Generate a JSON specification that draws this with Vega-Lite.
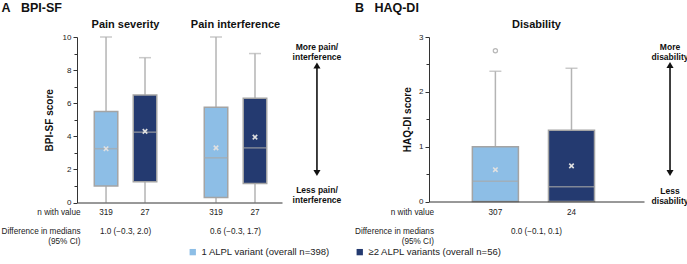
{
  "$schema": "https://vega.github.io/schema/vega-lite/v6.json",
  "padding": {"left": 1, "top": 1, "right": 0, "bottom": 0},
  "background": "white",
  "config": {
    "font": "Liberation Sans",
    "view": {"stroke": null},
    "axis": {"domainColor": "#333333", "tickColor": "#333333", "labelColor": "#222222", "titleColor": "#111111", "grid": false, "labelOverlap": false, "labelBound": false, "labelFlush": false},
    "title": {"anchor": "start", "fontSize": 12.5, "fontWeight": "bold", "color": "#111111", "offset": 4},
    "legend": {"layout": {"bottom": {"anchor": "middle"}}}
  },
  "datasets": {
    "bpi": [
      {"measure": "Pain severity", "variant": "1 ALPL variant (overall n=398)", "lower": 0, "q1": 1.0, "median": 3.25, "q3": 5.5, "upper": 10, "mean": 3.25, "n": 319},
      {"measure": "Pain severity", "variant": "≥2 ALPL variants (overall n=56)", "lower": 0, "q1": 1.25, "median": 4.25, "q3": 6.5, "upper": 8.75, "mean": 4.3, "n": 27},
      {"measure": "Pain interference", "variant": "1 ALPL variant (overall n=398)", "lower": 0, "q1": 0.3, "median": 2.7, "q3": 5.75, "upper": 10, "mean": 3.3, "n": 319},
      {"measure": "Pain interference", "variant": "≥2 ALPL variants (overall n=56)", "lower": 0, "q1": 1.15, "median": 3.3, "q3": 6.3, "upper": 9.0, "mean": 3.95, "n": 27}
    ],
    "haq": [
      {"measure": "Disability", "variant": "1 ALPL variant (overall n=398)", "lower": 0, "q1": 0, "median": 0.37, "q3": 1.0, "upper": 2.375, "mean": 0.58, "n": 307, "outlier": 2.75},
      {"measure": "Disability", "variant": "≥2 ALPL variants (overall n=56)", "lower": 0, "q1": 0, "median": 0.27, "q3": 1.3, "upper": 2.43, "mean": 0.65, "n": 24, "outlier": null}
    ],
    "diffA": [
      {"measure": "Pain severity", "diff": "1.0 (−0.3, 2.0)"},
      {"measure": "Pain interference", "diff": "0.6 (−0.3, 1.7)"}
    ],
    "diffB": [
      {"measure": "Disability", "diff": "0.0 (−0.1, 0.1)"}
    ]
  },
  "hconcat": [
    {
      "title": {"text": "A\u00a0\u00a0\u00a0BPI-SF"},
      "width": 205,
      "height": 165.5,
      "resolve": {"axis": {"x": "independent", "y": "independent"}},
      "layer": [
        {
          "data": {"name": "bpi"},
          "mark": {"type": "rule", "color": "#b4b4b4", "strokeWidth": 1.5},
          "encoding": {
            "x": {"field": "measure", "type": "nominal", "sort": ["Pain severity", "Pain interference"],
                  "scale": {"paddingInner": 0.3, "paddingOuter": 0.082, "align": 0.556},
                  "axis": {"orient": "bottom", "title": null, "labels": false, "ticks": false, "domain": true, "domainColor": "#333333", "zindex": 1}},
            "xOffset": {"field": "variant", "type": "nominal", "sort": ["1 ALPL variant (overall n=398)", "≥2 ALPL variants (overall n=56)"],
                  "scale": {"paddingInner": 0.397, "paddingOuter": 0.186}},
            "y": {"field": "lower", "type": "quantitative", "scale": {"domain": [0, 10], "nice": false, "zero": false},
                  "axis": {"orient": "left", "title": "BPI-SF score", "titleFontSize": 10, "titleFontWeight": "bold", "titlePadding": 8,
                           "values": [0, 2, 4, 6, 8, 10], "format": "d",
                           "labelFontSize": 8, "labelPadding": 2, "tickSize": 4, "zindex": 1}},
            "y2": {"field": "upper"}
          }
        },
        {
          "data": {"name": "bpi"},
          "mark": {"type": "tick", "color": "#b4b4b4", "size": 12, "thickness": 1.5},
          "encoding": {
            "x": {"field": "measure", "type": "nominal", "sort": ["Pain severity", "Pain interference"], "axis": null},
            "xOffset": {"field": "variant", "type": "nominal", "sort": ["1 ALPL variant (overall n=398)", "≥2 ALPL variants (overall n=56)"]},
            "y": {"field": "upper", "type": "quantitative",
                  "axis": {"orient": "left", "title": null, "values": [1, 3, 5, 7, 9], "labels": false, "domain": false, "tickSize": 3, "zindex": 1}}
          }
        },
        {
          "data": {"name": "bpi"},
          "mark": {"type": "bar", "stroke": "#a4a4a4", "strokeWidth": 1.5},
          "encoding": {
            "x": {"field": "measure", "type": "nominal", "sort": ["Pain severity", "Pain interference"],
                  "axis": {"orient": "top", "title": null, "domain": false, "ticks": false, "labelAngle": 0, "labelFontSize": 11, "labelFontWeight": "bold", "labelPadding": 8, "labelColor": "#111111"}},
            "xOffset": {"field": "variant", "type": "nominal", "sort": ["1 ALPL variant (overall n=398)", "≥2 ALPL variants (overall n=56)"]},
            "y": {"field": "q1", "type": "quantitative", "axis": null},
            "y2": {"field": "q3"},
            "color": {"field": "variant", "type": "nominal",
                      "scale": {"domain": ["1 ALPL variant (overall n=398)", "≥2 ALPL variants (overall n=56)"], "range": ["#8dbee6", "#243a70"]},
                      "legend": {"title": null, "orient": "bottom", "direction": "horizontal", "symbolType": "square", "symbolSize": 40, "symbolStrokeWidth": 0, "labelFontSize": 9.5, "labelColor": "#222222", "columnPadding": 24, "labelLimit": 300, "offset": 2}}
          }
        },
        {
          "data": {"name": "bpi"},
          "mark": {"type": "tick", "color": "#a8a8a8", "size": 23.5, "thickness": 1.5},
          "encoding": {
            "x": {"field": "measure", "type": "nominal", "sort": ["Pain severity", "Pain interference"], "axis": null},
            "xOffset": {"field": "variant", "type": "nominal", "sort": ["1 ALPL variant (overall n=398)", "≥2 ALPL variants (overall n=56)"]},
            "y": {"field": "median", "type": "quantitative", "axis": null}
          }
        },
        {
          "data": {"name": "bpi"},
          "mark": {"type": "point", "shape": "M-1,-1L1,1M-1,1L1,-1", "filled": false, "stroke": "#e0e0e0", "strokeWidth": 1.6, "size": 20, "opacity": 1},
          "encoding": {
            "x": {"field": "measure", "type": "nominal", "sort": ["Pain severity", "Pain interference"], "axis": null},
            "xOffset": {"field": "variant", "type": "nominal", "sort": ["1 ALPL variant (overall n=398)", "≥2 ALPL variants (overall n=56)"]},
            "y": {"field": "mean", "type": "quantitative", "axis": null}
          }
        },
        {
          "data": {"name": "bpi"},
          "mark": {"type": "text", "fontSize": 8.2, "color": "#222222", "baseline": "middle"},
          "encoding": {
            "x": {"field": "measure", "type": "nominal", "sort": ["Pain severity", "Pain interference"], "axis": null},
            "xOffset": {"field": "variant", "type": "nominal", "sort": ["1 ALPL variant (overall n=398)", "≥2 ALPL variants (overall n=56)"]},
            "y": {"datum": -0.63, "type": "quantitative", "axis": null},
            "text": {"field": "n"}
          }
        },
        {
          "data": {"name": "diffA"},
          "mark": {"type": "text", "fontSize": 8.2, "color": "#222222", "baseline": "middle"},
          "encoding": {
            "x": {"field": "measure", "type": "nominal", "sort": ["Pain severity", "Pain interference"], "axis": null},
            "y": {"datum": -1.8, "type": "quantitative", "axis": null},
            "text": {"field": "diff"}
          }
        },
        {
          "data": {"values": [{}]},
          "mark": {"type": "text", "text": "n with value", "fontSize": 8.2, "color": "#222222", "align": "right", "baseline": "middle"},
          "encoding": {
            "x": {"datum": "Pain severity", "type": "nominal", "bandPosition": -0.084, "axis": null},
            "y": {"datum": -0.63, "type": "quantitative", "axis": null}
          }
        },
        {
          "data": {"values": [{}]},
          "mark": {"type": "text", "text": ["Difference in medians", "(95% CI)"], "lineHeight": 9.5, "fontSize": 8.2, "color": "#222222", "align": "right", "baseline": "middle"},
          "encoding": {
            "x": {"datum": "Pain severity", "type": "nominal", "bandPosition": -0.084, "axis": null},
            "y": {"datum": -1.8, "type": "quantitative", "axis": null}
          }
        },
        {
          "data": {"values": [{}]},
          "mark": {"type": "text", "text": ["More pain/", "interference"], "lineHeight": 10, "fontSize": 8.5, "fontWeight": "bold", "color": "#111111", "align": "center", "baseline": "middle"},
          "encoding": {
            "x": {"datum": "Pain interference", "type": "nominal", "bandPosition": 1.558, "axis": null},
            "y": {"datum": 9.4, "type": "quantitative", "axis": null}
          }
        },
        {
          "data": {"values": [{}]},
          "mark": {"type": "text", "text": ["Less pain/", "interference"], "lineHeight": 10, "fontSize": 8.5, "fontWeight": "bold", "color": "#111111", "align": "center", "baseline": "middle"},
          "encoding": {
            "x": {"datum": "Pain interference", "type": "nominal", "bandPosition": 1.558, "axis": null},
            "y": {"datum": 0.73, "type": "quantitative", "axis": null}
          }
        },
        {
          "data": {"values": [{}]},
          "mark": {"type": "rule", "color": "#111111", "strokeWidth": 1.6},
          "encoding": {
            "x": {"datum": "Pain interference", "type": "nominal", "bandPosition": 1.558, "axis": null},
            "y": {"datum": 8.28, "type": "quantitative", "axis": null},
            "y2": {"datum": 1.78}
          }
        },
        {
          "data": {"values": [{}]},
          "mark": {"type": "point", "shape": "triangle-up", "filled": true, "color": "#111111", "size": 50, "opacity": 1},
          "encoding": {
            "x": {"datum": "Pain interference", "type": "nominal", "bandPosition": 1.558, "axis": null},
            "y": {"datum": 8.28, "type": "quantitative", "axis": null}
          }
        },
        {
          "data": {"values": [{}]},
          "mark": {"type": "point", "shape": "triangle-down", "filled": true, "color": "#111111", "size": 50, "opacity": 1},
          "encoding": {
            "x": {"datum": "Pain interference", "type": "nominal", "bandPosition": 1.558, "axis": null},
            "y": {"datum": 1.78, "type": "quantitative", "axis": null}
          }
        }
      ]
    },
    {
      "title": {"text": "B\u00a0\u00a0\u00a0HAQ-DI"},
      "width": 215,
      "height": 164.5,
      "resolve": {"axis": {"x": "independent", "y": "independent"}},
      "layer": [
        {
          "data": {"name": "haq"},
          "mark": {"type": "rule", "color": "#b4b4b4", "strokeWidth": 1.5},
          "encoding": {
            "x": {"field": "measure", "type": "nominal",
                  "scale": {"paddingInner": 0, "paddingOuter": 0},
                  "axis": {"orient": "bottom", "title": null, "labels": false, "ticks": false, "domain": true, "domainColor": "#333333", "zindex": 1}},
            "xOffset": {"field": "variant", "type": "nominal", "sort": ["1 ALPL variant (overall n=398)", "≥2 ALPL variants (overall n=56)"],
                  "scale": {"paddingInner": 0.395, "paddingOuter": 0.61, "align": 0.467}},
            "y": {"field": "lower", "type": "quantitative", "scale": {"domain": [0, 3], "nice": false, "zero": false},
                  "axis": {"orient": "left", "title": "HAQ-DI score", "titleFontSize": 10, "titleFontWeight": "bold", "titlePadding": 6,
                           "values": [0, 1, 2, 3], "format": "d",
                           "labelFontSize": 8, "labelPadding": 2, "tickSize": 4, "zindex": 1}},
            "y2": {"field": "upper"}
          }
        },
        {
          "data": {"name": "haq"},
          "mark": {"type": "tick", "color": "#b4b4b4", "size": 12, "thickness": 1.5},
          "encoding": {
            "x": {"field": "measure", "type": "nominal", "axis": null},
            "xOffset": {"field": "variant", "type": "nominal", "sort": ["1 ALPL variant (overall n=398)", "≥2 ALPL variants (overall n=56)"]},
            "y": {"field": "upper", "type": "quantitative",
                  "axis": {"orient": "left", "title": null, "values": [0.5, 1.5, 2.5], "labels": false, "domain": false, "tickSize": 3, "zindex": 1}}
          }
        },
        {
          "data": {"name": "haq"},
          "mark": {"type": "bar", "stroke": "#a4a4a4", "strokeWidth": 1.5},
          "encoding": {
            "x": {"field": "measure", "type": "nominal",
                  "axis": {"orient": "top", "title": null, "domain": false, "ticks": false, "labelAngle": 0, "labelFontSize": 11, "labelFontWeight": "bold", "labelPadding": 8, "labelColor": "#111111"}},
            "xOffset": {"field": "variant", "type": "nominal", "sort": ["1 ALPL variant (overall n=398)", "≥2 ALPL variants (overall n=56)"]},
            "y": {"field": "q1", "type": "quantitative", "axis": null},
            "y2": {"field": "q3"},
            "color": {"field": "variant", "type": "nominal",
                      "scale": {"domain": ["1 ALPL variant (overall n=398)", "≥2 ALPL variants (overall n=56)"], "range": ["#8dbee6", "#243a70"]},
                      "legend": {"title": null, "orient": "bottom", "direction": "horizontal", "symbolType": "square", "symbolSize": 40, "symbolStrokeWidth": 0, "labelFontSize": 9.5, "labelColor": "#222222", "columnPadding": 24, "labelLimit": 300, "offset": 2}}
          }
        },
        {
          "data": {"name": "haq"},
          "mark": {"type": "tick", "color": "#a8a8a8", "size": 46, "thickness": 1.5},
          "encoding": {
            "x": {"field": "measure", "type": "nominal", "axis": null},
            "xOffset": {"field": "variant", "type": "nominal", "sort": ["1 ALPL variant (overall n=398)", "≥2 ALPL variants (overall n=56)"]},
            "y": {"field": "median", "type": "quantitative", "axis": null}
          }
        },
        {
          "data": {"name": "haq"},
          "mark": {"type": "point", "shape": "M-1,-1L1,1M-1,1L1,-1", "filled": false, "stroke": "#e0e0e0", "strokeWidth": 1.6, "size": 20, "opacity": 1},
          "encoding": {
            "x": {"field": "measure", "type": "nominal", "axis": null},
            "xOffset": {"field": "variant", "type": "nominal", "sort": ["1 ALPL variant (overall n=398)", "≥2 ALPL variants (overall n=56)"]},
            "y": {"field": "mean", "type": "quantitative", "axis": null}
          }
        },
        {
          "data": {"name": "haq"},
          "mark": {"type": "point", "shape": "circle", "filled": false, "stroke": "#b8b8b8", "strokeWidth": 1.2, "size": 18, "opacity": 1},
          "encoding": {
            "x": {"field": "measure", "type": "nominal", "axis": null},
            "xOffset": {"field": "variant", "type": "nominal", "sort": ["1 ALPL variant (overall n=398)", "≥2 ALPL variants (overall n=56)"]},
            "y": {"field": "outlier", "type": "quantitative", "axis": null}
          }
        },
        {
          "data": {"name": "haq"},
          "mark": {"type": "text", "fontSize": 8.2, "color": "#222222", "baseline": "middle"},
          "encoding": {
            "x": {"field": "measure", "type": "nominal", "axis": null},
            "xOffset": {"field": "variant", "type": "nominal", "sort": ["1 ALPL variant (overall n=398)", "≥2 ALPL variants (overall n=56)"]},
            "y": {"datum": -0.21, "type": "quantitative", "axis": null},
            "text": {"field": "n"}
          }
        },
        {
          "data": {"name": "diffB"},
          "mark": {"type": "text", "fontSize": 8.2, "color": "#222222", "baseline": "middle"},
          "encoding": {
            "x": {"field": "measure", "type": "nominal", "axis": null},
            "y": {"datum": -0.56, "type": "quantitative", "axis": null},
            "text": {"field": "diff"}
          }
        },
        {
          "data": {"values": [{}]},
          "mark": {"type": "text", "text": "n with value", "fontSize": 8.2, "color": "#222222", "align": "right", "baseline": "middle"},
          "encoding": {
            "x": {"datum": "Disability", "type": "nominal", "bandPosition": 0.0233, "axis": null},
            "y": {"datum": -0.21, "type": "quantitative", "axis": null}
          }
        },
        {
          "data": {"values": [{}]},
          "mark": {"type": "text", "text": ["Difference in medians", "(95% CI)"], "lineHeight": 9.5, "fontSize": 8.2, "color": "#222222", "align": "right", "baseline": "middle"},
          "encoding": {
            "x": {"datum": "Disability", "type": "nominal", "bandPosition": 0.0233, "axis": null},
            "y": {"datum": -0.56, "type": "quantitative", "axis": null}
          }
        },
        {
          "data": {"values": [{}]},
          "mark": {"type": "text", "text": ["More", "disability"], "lineHeight": 10, "fontSize": 8.5, "fontWeight": "bold", "color": "#111111", "align": "center", "baseline": "middle"},
          "encoding": {
            "x": {"datum": "Disability", "type": "nominal", "bandPosition": 1.121, "axis": null},
            "y": {"datum": 2.823, "type": "quantitative", "axis": null}
          }
        },
        {
          "data": {"values": [{}]},
          "mark": {"type": "text", "text": ["Less", "disability"], "lineHeight": 10, "fontSize": 8.5, "fontWeight": "bold", "color": "#111111", "align": "center", "baseline": "middle"},
          "encoding": {
            "x": {"datum": "Disability", "type": "nominal", "bandPosition": 1.121, "axis": null},
            "y": {"datum": 0.19, "type": "quantitative", "axis": null}
          }
        },
        {
          "data": {"values": [{}]},
          "mark": {"type": "rule", "color": "#111111", "strokeWidth": 1.6},
          "encoding": {
            "x": {"datum": "Disability", "type": "nominal", "bandPosition": 1.121, "axis": null},
            "y": {"datum": 2.49, "type": "quantitative", "axis": null},
            "y2": {"datum": 0.52}
          }
        },
        {
          "data": {"values": [{}]},
          "mark": {"type": "point", "shape": "triangle-up", "filled": true, "color": "#111111", "size": 50, "opacity": 1},
          "encoding": {
            "x": {"datum": "Disability", "type": "nominal", "bandPosition": 1.121, "axis": null},
            "y": {"datum": 2.49, "type": "quantitative", "axis": null}
          }
        },
        {
          "data": {"values": [{}]},
          "mark": {"type": "point", "shape": "triangle-down", "filled": true, "color": "#111111", "size": 50, "opacity": 1},
          "encoding": {
            "x": {"datum": "Disability", "type": "nominal", "bandPosition": 1.121, "axis": null},
            "y": {"datum": 0.52, "type": "quantitative", "axis": null}
          }
        }
      ]
    }
  ],
  "spacing": 12,
  "resolve": {"scale": {"color": "shared", "x": "independent", "y": "independent", "xOffset": "independent"}}
}
